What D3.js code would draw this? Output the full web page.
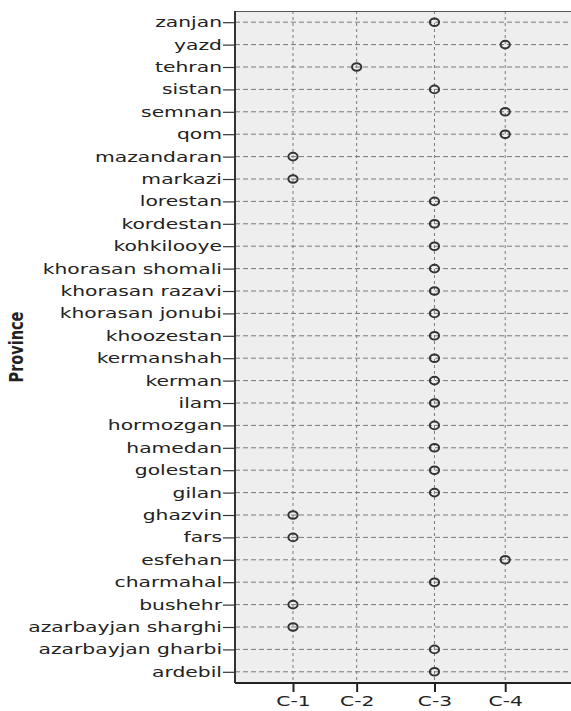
<!DOCTYPE html>
<html>
<head>
<meta charset="utf-8">
<script src="https://cdn.jsdelivr.net/npm/d3@7"></script>
<style>
  html, body { margin: 0; padding: 0; background: #ffffff; }
  svg { display: block; }
  text { font-family: "DejaVu Sans", sans-serif; fill: #222; }
</style>
</head>
<body>
<svg id="chart" width="571" height="711"></svg>
<script>
// Provinces, top to bottom
const provinces = [
  "zanjan", "yazd", "tehran", "sistan", "semnan", "qom", "mazandaran", "markazi",
  "lorestan", "kordestan", "kohkilooye", "khorasan shomali", "khorasan razavi",
  "khorasan jonubi", "khoozestan", "kermanshah", "kerman", "ilam", "hormozgan",
  "hamedan", "golestan", "gilan", "ghazvin", "fars", "esfehan", "charmahal",
  "bushehr", "azarbayjan sharghi", "azarbayjan gharbi", "ardebil"
];
// Cluster assigned to each province (same order)
const clusters = [
  "C-3", "C-4", "C-2", "C-3", "C-4", "C-4", "C-1", "C-1",
  "C-3", "C-3", "C-3", "C-3", "C-3",
  "C-3", "C-3", "C-3", "C-3", "C-3", "C-3",
  "C-3", "C-3", "C-3", "C-1", "C-1", "C-4", "C-3",
  "C-1", "C-1", "C-3", "C-3"
];
// Cluster tick labels and their numeric axis values
const clusterLabels = ["C-1", "C-2", "C-3", "C-4"];
const clusterValues = [1, 1.9, 3, 4];
const xDomain = [0.18, 4.93];
const yTitle = "Province";

const W = 571, H = 711;
const margin = { top: 11, right: 0, bottom: 28, left: 235 };
const stretch = 1.45; // horizontal text stretch of the reference

const svg = d3.select("#chart");
const x = d3.scaleLinear().domain(xDomain).range([margin.left, W - margin.right]);
const y = d3.scalePoint().domain(provinces).range([margin.top, H - margin.bottom]).padding(0.5);
const valueOf = new Map(clusterLabels.map((c, i) => [c, clusterValues[i]]));

const plotTop = margin.top, plotBottom = H - margin.bottom;

// background
svg.append("rect")
  .attr("x", margin.left).attr("y", plotTop)
  .attr("width", W - margin.left).attr("height", plotBottom - plotTop)
  .attr("fill", "#eeeeee");

// vertical grid
svg.append("g").selectAll("line").data(clusterValues).join("line")
  .attr("x1", d => x(d)).attr("x2", d => x(d))
  .attr("y1", plotTop).attr("y2", plotBottom)
  .attr("stroke", "#7a7a7a").attr("stroke-width", 1)
  .attr("stroke-dasharray", "3,3");

// horizontal grid
svg.append("g").selectAll("line").data(provinces).join("line")
  .attr("x1", margin.left).attr("x2", W)
  .attr("y1", d => y(d)).attr("y2", d => y(d))
  .attr("stroke", "#7a7a7a").attr("stroke-width", 1)
  .attr("stroke-dasharray", "5,3");

// top frame
svg.append("line")
  .attr("x1", margin.left).attr("x2", W).attr("y1", plotTop + 0.5).attr("y2", plotTop + 0.5)
  .attr("stroke", "#555").attr("stroke-width", 1.2);

// x axis
const xAxis = svg.append("g")
  .attr("transform", `translate(0,${plotBottom})`)
  .call(d3.axisBottom(x).tickValues(clusterValues)
    .tickFormat((d, i) => clusterLabels[i]).tickSize(9).tickPadding(4).tickSizeOuter(0));
xAxis.select(".domain").attr("stroke", "#222").attr("stroke-width", 2)
  .attr("d", `M${margin.left},0H${W}`);
xAxis.selectAll(".tick line").attr("stroke", "#222").attr("stroke-width", 2);
xAxis.selectAll(".tick text")
  .attr("font-size", 14).attr("font-family", "DejaVu Sans, sans-serif").attr("fill", "#222")
  .attr("transform", `scale(${stretch},1)`);

// y axis
const yAxis = svg.append("g")
  .attr("transform", `translate(${margin.left},0)`)
  .call(d3.axisLeft(y).tickSize(12).tickPadding(1).tickSizeOuter(0));
yAxis.select(".domain").attr("stroke", "#333").attr("stroke-width", 2)
  .attr("d", `M0,${plotTop}V${plotBottom}`);
yAxis.selectAll(".tick line").attr("stroke", "#333").attr("stroke-width", 1.2);
yAxis.selectAll(".tick text")
  .attr("font-size", 14).attr("font-family", "DejaVu Sans, sans-serif").attr("fill", "#222")
  .attr("x", -13 / stretch)
  .attr("transform", `scale(${stretch},1)`);

// y title
svg.append("text")
  .attr("transform", `translate(23,${(plotTop + plotBottom) / 2}) scale(1.4,1) rotate(-90)`)
  .attr("text-anchor", "middle")
  .attr("font-size", 14.5).attr("font-weight", "bold").attr("fill", "#111")
  .text(yTitle);

// points
svg.append("g").selectAll("ellipse").data(provinces).join("ellipse")
  .attr("cx", (d, i) => x(valueOf.get(clusters[i])))
  .attr("cy", d => y(d))
  .attr("rx", 4.6).attr("ry", 3.8)
  .attr("fill", "none").attr("stroke", "#333").attr("stroke-width", 2);
</script>
</body>
</html>
